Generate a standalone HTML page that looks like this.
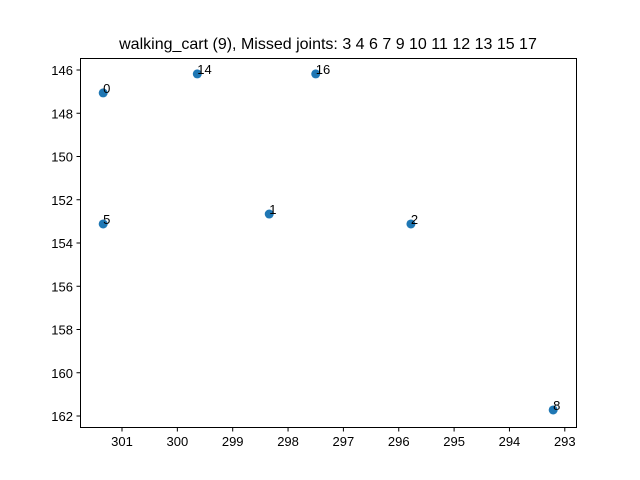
<!DOCTYPE html>
<html><head><meta charset="utf-8"><style>
body{margin:0;background:#fff;}
svg{display:block;font-family:"Liberation Sans","DejaVu Sans",sans-serif;}
</style></head><body>
<svg id="chart" width="640" height="480">
<rect width="640" height="480" fill="#fff"/>
<text x="328" y="49" font-size="16" text-anchor="middle">walking_cart (9), Missed joints: 3 4 6 7 9 10 11 12 13 15 17</text>
<g id="ticks"></g>
<g id="points"></g>
<rect x="80.5" y="58.5" width="496" height="369" fill="none" stroke="#000" stroke-width="1"/>
</svg>
<script>
const labels = ["0","14","16","1","5","2","8"];
const xValues = [301.34, 299.64, 297.50, 298.34, 301.34, 295.78, 293.21];
const yValues = [147.06, 146.18, 146.18, 152.66, 153.12, 153.12, 161.72];
const xTicks = [301,300,299,298,297,296,295,294,293];
const yTicks = [146,148,150,152,154,156,158,160,162];

const NS="http://www.w3.org/2000/svg";
function xs(v){return 122+(301-v)*55.35;}
function ys(v){return 70+(v-146)*21.625;}
const tg=document.getElementById('ticks');
function mk(tag,attrs,parent){const e=document.createElementNS(NS,tag);for(const k in attrs)e.setAttribute(k,attrs[k]);parent.appendChild(e);return e;}
xTicks.forEach(t=>{
  const x=xs(t);
  const l=mk('line',{x1:x,x2:x,y1:427.5,y2:431.5,stroke:'#000'},tg);
  
  
  const tx=mk('text',{x:x,y:446,'font-size':13,'text-anchor':'middle'},tg);
  tx.textContent=t;
  
  
});
yTicks.forEach(t=>{
  const y=ys(t);
  const l=mk('line',{x1:76.5,x2:80.5,y1:y,y2:y,stroke:'#000'},tg);
  
  
  const tx=mk('text',{x:73,y:y+5,'font-size':13,'text-anchor':'end'},tg);
  tx.textContent=t;
  
  
});
const pg=document.getElementById('points');
labels.forEach((lab,i)=>{
  const x=xs(xValues[i]),y=ys(yValues[i]);
  const c=mk('circle',{cx:x,cy:y,r:4.5,fill:'#1f77b4'},pg);
  
  
  const t=mk('text',{x:x,y:y,'font-size':13},pg);
  t.textContent=lab;
  
  
});
</script>
</body></html>
